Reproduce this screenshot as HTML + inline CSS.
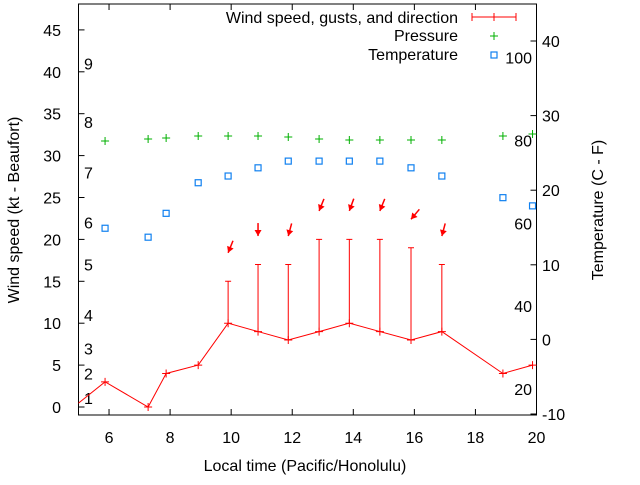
<!DOCTYPE html>
<html><head><meta charset="utf-8"><style>
body{margin:0;background:#fff}
svg text{font-family:"Liberation Sans",sans-serif;font-size:16px;fill:#000}
</style></head><body>
<svg width="640" height="480" viewBox="0 0 640 480" id="chart">
<defs><clipPath id="plotclip"><rect x="78.5" y="4" width="458" height="411"/></clipPath></defs>
</svg>
<script>
const times=[4.5,5.87,7.28,7.87,8.92,9.9,10.88,11.87,12.88,13.87,14.87,15.89,16.9,18.9,19.87];
const wind=[-1,3,0,4,5,10,9,8,9,10,9,8,9,4,5];
const gustTimes=[9.9,10.88,11.87,12.88,13.87,14.87,15.89,16.9];
const gusts=[15,17,17,20,20,20,19,17];
const gustDir=[22,0,15,22,20,22,40,15];
const pressTimes=[5.87,7.28,7.87,8.92,9.9,10.88,11.87,12.88,13.87,14.87,15.89,16.9,18.9,19.87];
const pressure=[1013.0,1013.4,1013.6,1014.0,1014.0,1014.0,1013.8,1013.4,1013.2,1013.2,1013.2,1013.2,1014.0,1014.4];
const tempC=[14.9,13.7,16.9,21.0,21.9,23.0,23.9,23.9,23.9,23.9,23.0,21.9,19.0,17.9];
const xTicks=[6,8,10,12,14,16,18,20];
const yTicks=[0,5,10,15,20,25,30,35,40,45];
const y2Ticks=[-10,0,10,20,30,40];
const fLabels=[20,40,60,80,100];
const bLabels=[1,2,3,4,5,6,7,8,9];
const bKt=[1.1,4,7,11,17,22,28,34,41];

const L=78.5,R=536.5,T=4,B=415;
const X=t=>L+(t-5)*(R-L)/15;
const Y=k=>407-k*8.38;
const Y2=c=>414-(c+10)*7.46;
const YP=p=>141-(p-1013)*5;
const svg=document.getElementById('chart');
const NS='http://www.w3.org/2000/svg';
function mk(tag,attrs,parent){const e=document.createElementNS(NS,tag);for(const k in attrs)e.setAttribute(k,attrs[k]);(parent||svg).appendChild(e);return e;}
function txt(s,x,y,anchor,parent){const e=mk('text',{x:x,y:y,'text-anchor':anchor||'start'},parent);e.textContent=s;return e;}

let fr=mk('rect',{x:L,y:T,width:R-L,height:B-T,fill:'none',stroke:'#000','stroke-width':1});


const xg=mk('g',{});
xTicks.forEach(t=>{mk('line',{x1:X(t),x2:X(t),y1:B,y2:B-6,stroke:'#000'},xg);mk('line',{x1:X(t),x2:X(t),y1:T,y2:T+6,stroke:'#000'},xg);
 const l=txt(String(t),X(t),443,'middle',xg);});
const yg=mk('g',{});
yTicks.forEach(v=>{mk('line',{x1:L,x2:L+6,y1:Y(v),y2:Y(v),stroke:'#000'},yg);
 const l=txt(String(v),61,Y(v)+6,'end',yg);});
const y2g=mk('g',{});
y2Ticks.forEach(v=>{mk('line',{x1:R,x2:R-6,y1:Y2(v),y2:Y2(v),stroke:'#000'},y2g);
 const l=txt(String(v),542,Y2(v)+6,'start',y2g);});
fLabels.forEach(f=>{const l=txt(String(f),532,Y2((f-32)*5/9)+6,'end');});
bLabels.forEach((b,i)=>{const l=txt(String(b),84,Y(bKt[i])+6,'start');});

let t1=txt('Wind speed (kt - Beaufort)',0,0,'middle');t1.setAttribute('transform','translate(19,210) rotate(-90)');

let t2=txt('Temperature (C - F)',0,0,'middle');t2.setAttribute('transform','translate(603,210) rotate(-90)');

let t3=txt('Local time (Pacific/Honolulu)',305,471,'middle');

const pg=mk('g',{'clip-path':'url(#plotclip)'});
pressTimes.forEach((t,i)=>{const x=X(t),y=YP(pressure[i]);const g=mk('path',{d:`M${x-4},${y}H${x+4}M${x},${y-4}V${y+4}`,stroke:'#00b000','stroke-width':1},pg);
 });
pressTimes.forEach((t,i)=>{const x=X(t),y=Y2(tempC[i]);const r=mk('rect',{x:x-3,y:y-3,width:6,height:6,fill:'none',stroke:'#1080f0','stroke-width':1.2},pg);
 });
const wl=mk('polyline',{points:times.map((t,i)=>X(t)+','+Y(wind[i])).join(' '),fill:'none',stroke:'#f00','stroke-width':1},pg);

times.forEach((t,i)=>{const x=X(t),y=Y(wind[i]);const p=mk('path',{d:`M${x-4},${y}H${x+4}M${x},${y-4}V${y+4}`,stroke:'#f00'},pg);
 });
gustTimes.forEach((t,i)=>{const x=X(t);const wi=times.indexOf(t);const y0=Y(wind[wi]),y1=Y(gusts[i]);
 const g=mk('path',{d:`M${x},${y0}V${y1}M${x-3},${y1}H${x+3}`,stroke:'#f00'},pg);
 
 const hy=Y(gusts[i]+3.4),a=gustDir[i]*Math.PI/180,len=13;
 const tx=x+len*Math.sin(a),ty=hy-len*Math.cos(a);
 const ux=(x-tx)/len,uy=(hy-ty)/len,bx=x-ux*6,by=hy-uy*6;
 const ar=mk('g',{},pg);
 mk('line',{x1:tx,y1:ty,x2:x,y2:hy,stroke:'#f00','stroke-width':1.5},ar);
 mk('polygon',{points:`${x},${hy} ${bx-uy*3.5},${by+ux*3.5} ${bx+uy*3.5},${by-ux*3.5}`,fill:'#f00'},ar);});

const lg=mk('g',{});
const e1=mk('g',{},lg);
txt('Wind speed, gusts, and direction',458,23,'end',e1);
mk('path',{d:'M472,17H516M472,13V21M516,13V21M494,13V21',stroke:'#f00'},e1);
const e2=mk('g',{},lg);
txt('Pressure',458,41,'end',e2);
mk('path',{d:'M490,36H498M494,32V40',stroke:'#00b000'},e2);
const e3=mk('g',{},lg);
txt('Temperature',458,60,'end',e3);
mk('rect',{x:491,y:52,width:6,height:6,fill:'none',stroke:'#1080f0','stroke-width':1.2},e3);
</script>
</body></html>
